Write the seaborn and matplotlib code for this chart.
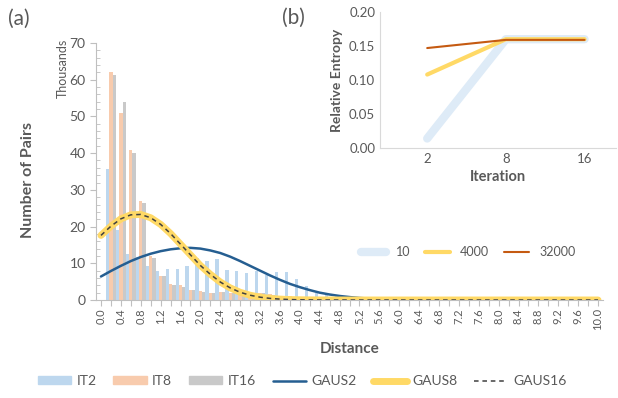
import numpy as np
import pandas as pd
import matplotlib
matplotlib.use("Agg")
import matplotlib.pyplot as plt
import seaborn as sns
from matplotlib.lines import Line2D
from matplotlib.patches import Patch

sns.set_style("white")
plt.rcParams['font.family'] = ['Lato', 'DejaVu Sans']

# distance categories 0.0 ... 10.0 (step 0.2)
distance = ["%.1f" % (i / 5) for i in range(51)]

# histogram counts in thousands
it2 = [0, 35.6, 19.0, 12.5, 11.6, 9.2, 7.9, 8.4, 8.5, 9.3, 11.4, 10.6, 11.1, 8.1, 7.8, 7.4,
       7.8, 6.8, 7.6, 7.6, 5.7, 3.8, 1.9, 1.7, 1.1, 0.8, 0.5, 0.3, 0.2, 0.1, 0.1] + [0] * 20
it8 = [0, 62.2, 50.8, 40.8, 27.1, 12.0, 6.6, 4.3, 4.0, 2.8, 2.4, 1.9, 2.1, 1.9, 2.4, 1.9,
       2.0, 1.5, 1.2, 1.0, 0.8, 0.5, 0.3, 0.2, 0.1] + [0] * 26
it16 = [0, 61.3, 53.8, 40.0, 26.3, 11.5, 6.6, 4.0, 3.6, 2.6, 2.3, 2.0, 2.2, 2.0, 2.2, 1.8,
        1.8, 1.4, 1.1, 0.9, 0.7, 0.5, 0.3, 0.2, 0.1] + [0] * 26

# fitted gaussians (thousands)
gaus2 = [6.4, 7.9, 9.3, 10.6, 11.7, 12.6, 13.3, 13.8, 14.1, 14.2, 14.0, 13.5, 12.8, 11.8, 10.6,
         9.3, 8.0, 6.7, 5.5, 4.4, 3.5, 2.7, 2.0, 1.5, 1.1, 0.8, 0.55, 0.38, 0.26, 0.17, 0.11,
         0.07, 0.04, 0.02, 0.01] + [0] * 16
gaus8 = [17.6, 20.1, 22.1, 23.2, 23.3, 22.4, 20.6, 18.1, 15.2, 12.3, 9.4, 7.0, 4.9, 3.3, 2.1,
         1.3, 0.77, 0.44, 0.24, 0.12, 0.06, 0.03, 0.01] + [0] * 28
gaus16 = [17.6, 20.1, 22.1, 23.2, 23.3, 22.4, 20.6, 18.1, 15.2, 12.3, 9.4, 7.0, 4.9, 3.3, 2.1,
          1.3, 0.77, 0.44, 0.24, 0.12, 0.06, 0.03, 0.01] + [0] * 28

# inset: relative entropy vs iteration
iterations = ["2", "8", "16"]
ent_10 = [0.014, 0.160, 0.160]
ent_4000 = [0.108, 0.160, 0.160]
ent_32000 = [0.147, 0.159, 0.159]

c_it2 = "#bdd7ee"
c_it8 = "#f8cbad"
c_it16 = "#c9c9c9"
c_g2 = "#255e91"
c_g8 = "#ffd966"
c_g16 = "#404040"
txt = "#595959"
axc = "#bfbfbf"

df = pd.DataFrame({
    "Distance": distance * 3,
    "Count": it2 + it8 + it16,
    "Series": ["IT2"] * 51 + ["IT8"] * 51 + ["IT16"] * 51,
})

fig = plt.figure(figsize=(6.18, 3.98), dpi=100)
ax = fig.add_axes([96 / 618, 1 - 300 / 398, 507 / 618, 257 / 398])

sns.barplot(data=df, x="Distance", y="Count", hue="Series", order=distance,
            hue_order=["IT2", "IT8", "IT16"], palette=[c_it2, c_it8, c_it16],
            width=1.0, gap=0, ax=ax, legend=False, saturation=1, linewidth=0)

xs = np.arange(51)
sns.lineplot(x=xs, y=gaus2, ax=ax, color=c_g2, lw=1.8)
sns.lineplot(x=xs, y=gaus8, ax=ax, color=c_g8, lw=5)
sns.lineplot(x=xs, y=gaus16, ax=ax, color=c_g16, lw=1.1, linestyle=(0, (3, 2.5)))

ax.set_xlim(-0.5, 50.5)
ax.set_ylim(0, 70)
ax.set_yticks(range(0, 71, 10))
ax.set_yticks(range(0, 71, 2), minor=True)
ax.set_xticks(xs)
ax.set_xticklabels([d if i % 2 == 0 else "" for i, d in enumerate(distance)],
                   rotation=90, fontsize=8, color=txt)
ax.tick_params(axis="y", which="major", direction="out", length=4, color=axc, labelsize=10,
               labelcolor=txt, left=True)
ax.tick_params(axis="y", which="minor", direction="in", length=3, color=axc, left=True)
ax.tick_params(axis="x", direction="out", length=4, color=axc, bottom=True, pad=2)
sns.despine(ax=ax)
for s in ["left", "bottom"]:
    ax.spines[s].set_color(axc)
ax.set_xlabel("Distance", fontsize=11, fontweight="bold", color=txt, labelpad=8)
ax.set_ylabel("")
fig.text(28 / 618, 1 - 180 / 398, "Number of Pairs", rotation=90, ha="center", va="center",
         fontsize=11.5, fontweight="bold", color=txt)
fig.text(63 / 618, 1 - 68 / 398, "Thousands", rotation=90, ha="center", va="center",
         fontsize=9, color=txt)
fig.text(8 / 618, 1 - 19 / 398, "(a)", ha="left", va="center", fontsize=15, color=txt)

# inset (b)
ax2 = fig.add_axes([380 / 618, 1 - 148 / 398, 236 / 618, 136 / 398])
pos = np.arange(3)
sns.lineplot(x=pos, y=ent_10, ax=ax2, color="#deebf7", lw=6, label="10")
sns.lineplot(x=pos, y=ent_4000, ax=ax2, color="#ffd966", lw=3, label="4000")
sns.lineplot(x=pos, y=ent_32000, ax=ax2, color="#c55a11", lw=1.5, label="32000")
ax2.set_xlim(-0.6, 2.4)
ax2.set_ylim(0, 0.2)
ax2.set_xticks(pos)
ax2.set_xticklabels(iterations)
ax2.set_yticks([0, 0.05, 0.1, 0.15, 0.2])
ax2.set_yticklabels(["0.00", "0.05", "0.10", "0.15", "0.20"])
ax2.tick_params(labelsize=9.5, labelcolor=txt, length=0)
sns.despine(ax=ax2)
for s in ["left", "bottom"]:
    ax2.spines[s].set_color("#d9d9d9")
ax2.set_xlabel("Iteration", fontsize=10.5, fontweight="bold", color=txt)
ax2.set_ylabel("Relative Entropy", fontsize=10, fontweight="bold", color=txt)
ax2.legend(loc="center", bbox_to_anchor=(468 / 618, 1 - 252 / 398), bbox_transform=fig.transFigure,
           ncol=3, frameon=False, fontsize=9, handlelength=2.0, columnspacing=1.2,
           labelcolor=txt)
fig.text(282 / 618, 1 - 18 / 398, "(b)", ha="left", va="center", fontsize=15, color=txt)

handles = [Patch(color=c_it2), Patch(color=c_it8), Patch(color=c_it16),
           Line2D([], [], color=c_g2, lw=1.8), Line2D([], [], color=c_g8, lw=5),
           Line2D([], [], color=c_g16, lw=1.1, linestyle=(0, (3, 2.5)))]
labels = ["IT2", "IT8", "IT16", "GAUS2", "GAUS8", "GAUS16"]
fig.legend(handles, labels, loc="center", bbox_to_anchor=(302 / 618, 1 - 381 / 398), ncol=6,
           frameon=False, fontsize=10, handlelength=2.4, handleheight=0.5, columnspacing=1.2,
           handletextpad=0.4, labelcolor=txt)

fig.savefig("out.png", dpi=100)
